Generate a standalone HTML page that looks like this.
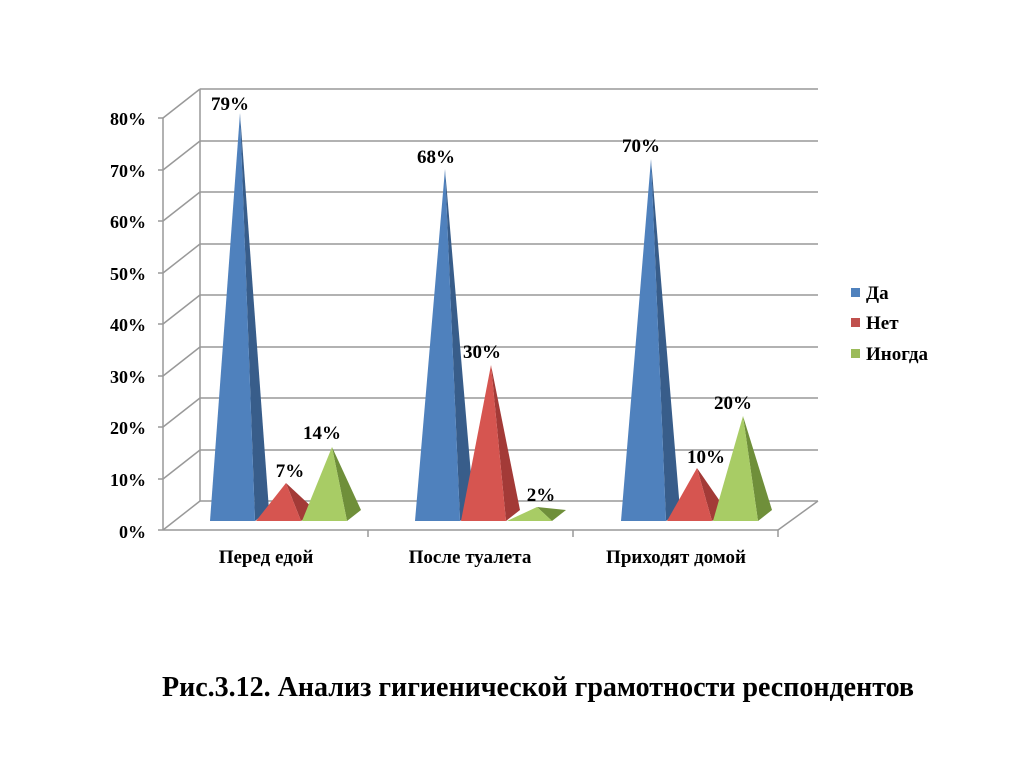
<!DOCTYPE html>
<html><head><meta charset="utf-8"><style>
body{margin:0;background:#fff;}
svg text{font-family:"Liberation Serif",serif;font-weight:bold;fill:#000;}
</style></head><body>
<svg width="1024" height="767" viewBox="0 0 1024 767" xmlns="http://www.w3.org/2000/svg">
<g stroke="#999" stroke-width="1.5" fill="none">
<line x1="200" y1="89" x2="200" y2="501"/>
<line x1="163" y1="118" x2="163" y2="530"/>
<line x1="200" y1="89" x2="818" y2="89"/>
<line x1="200" y1="141" x2="818" y2="141"/>
<line x1="200" y1="192" x2="818" y2="192"/>
<line x1="200" y1="244" x2="818" y2="244"/>
<line x1="200" y1="295" x2="818" y2="295"/>
<line x1="200" y1="347" x2="818" y2="347"/>
<line x1="200" y1="398" x2="818" y2="398"/>
<line x1="200" y1="450" x2="818" y2="450"/>
<line x1="200" y1="501" x2="818" y2="501"/>
<line x1="163" y1="118" x2="200" y2="89"/>
<line x1="163" y1="170" x2="200" y2="141"/>
<line x1="163" y1="221" x2="200" y2="192"/>
<line x1="163" y1="273" x2="200" y2="244"/>
<line x1="163" y1="324" x2="200" y2="295"/>
<line x1="163" y1="376" x2="200" y2="347"/>
<line x1="163" y1="427" x2="200" y2="398"/>
<line x1="163" y1="479" x2="200" y2="450"/>
<line x1="163" y1="530" x2="200" y2="501"/>
<line x1="163" y1="530" x2="778" y2="530"/>
<line x1="778" y1="530" x2="818" y2="501"/>
<line x1="368" y1="530" x2="368" y2="537"/>
<line x1="573" y1="530" x2="573" y2="537"/>
<line x1="778" y1="530" x2="778" y2="537"/>
<line x1="158" y1="118" x2="163" y2="118"/><line x1="158" y1="170" x2="163" y2="170"/><line x1="158" y1="221" x2="163" y2="221"/><line x1="158" y1="273" x2="163" y2="273"/><line x1="158" y1="324" x2="163" y2="324"/><line x1="158" y1="376" x2="163" y2="376"/><line x1="158" y1="427" x2="163" y2="427"/><line x1="158" y1="479" x2="163" y2="479"/><line x1="158" y1="530" x2="163" y2="530"/>
</g>
<g font-size="18" text-anchor="end">
<text x="146" y="125">80%</text><text x="146" y="177">70%</text><text x="146" y="228">60%</text><text x="146" y="280">50%</text><text x="146" y="331">40%</text><text x="146" y="383">30%</text><text x="146" y="434">20%</text><text x="146" y="486">10%</text><text x="146" y="538">0%</text>
</g>
<!-- group 1 -->
<polygon points="255,521 269,510 240,113" fill="#385d8a"/><polygon points="210,521 255,521 240,113" fill="#4f81bd"/>
<polygon points="301,521 315,510 286,483" fill="#a33a37"/><polygon points="256,521 301,521 286,483" fill="#d65550"/>
<polygon points="347,521 361,510 332,447" fill="#6f8f3a"/><polygon points="302,521 347,521 332,447" fill="#a8cc65"/>
<!-- group 2 -->
<polygon points="460,521 474,510 445,169" fill="#385d8a"/><polygon points="415,521 460,521 445,169" fill="#4f81bd"/>
<polygon points="506,521 520,510 491,365" fill="#a33a37"/><polygon points="461,521 506,521 491,365" fill="#d65550"/>
<polygon points="552,521 566,510 537,507" fill="#6f8f3a"/><polygon points="507,521 552,521 537,507" fill="#a8cc65"/>
<!-- group 3 -->
<polygon points="666,521 680,510 651,159" fill="#385d8a"/><polygon points="621,521 666,521 651,159" fill="#4f81bd"/>
<polygon points="712,521 726,510 697,468" fill="#a33a37"/><polygon points="667,521 712,521 697,468" fill="#d65550"/>
<polygon points="758,521 772,510 743,416" fill="#6f8f3a"/><polygon points="713,521 758,521 743,416" fill="#a8cc65"/>
<g font-size="19" text-anchor="middle">
<text x="230" y="110">79%</text><text x="290" y="477">7%</text><text x="322" y="439">14%</text>
<text x="436" y="163">68%</text><text x="482" y="358">30%</text><text x="541" y="501">2%</text>
<text x="641" y="152">70%</text><text x="706" y="463">10%</text><text x="733" y="409">20%</text>
<text x="266" y="563">Перед едой</text><text x="470" y="563">После туалета</text><text x="676" y="563">Приходят домой</text>
</g>
<rect x="851" y="288" width="9" height="9" fill="#4f81bd"/>
<rect x="851" y="318" width="9" height="9" fill="#c0504d"/>
<rect x="851" y="349" width="9" height="9" fill="#9bbb59"/>
<g font-size="19"><text x="866" y="299">Да</text><text x="866" y="329">Нет</text><text x="866" y="360">Иногда</text></g>
<text x="538" y="696" font-size="28" text-anchor="middle">Рис.3.12. Анализ гигиенической грамотности респондентов</text>
</svg>
</body></html>
